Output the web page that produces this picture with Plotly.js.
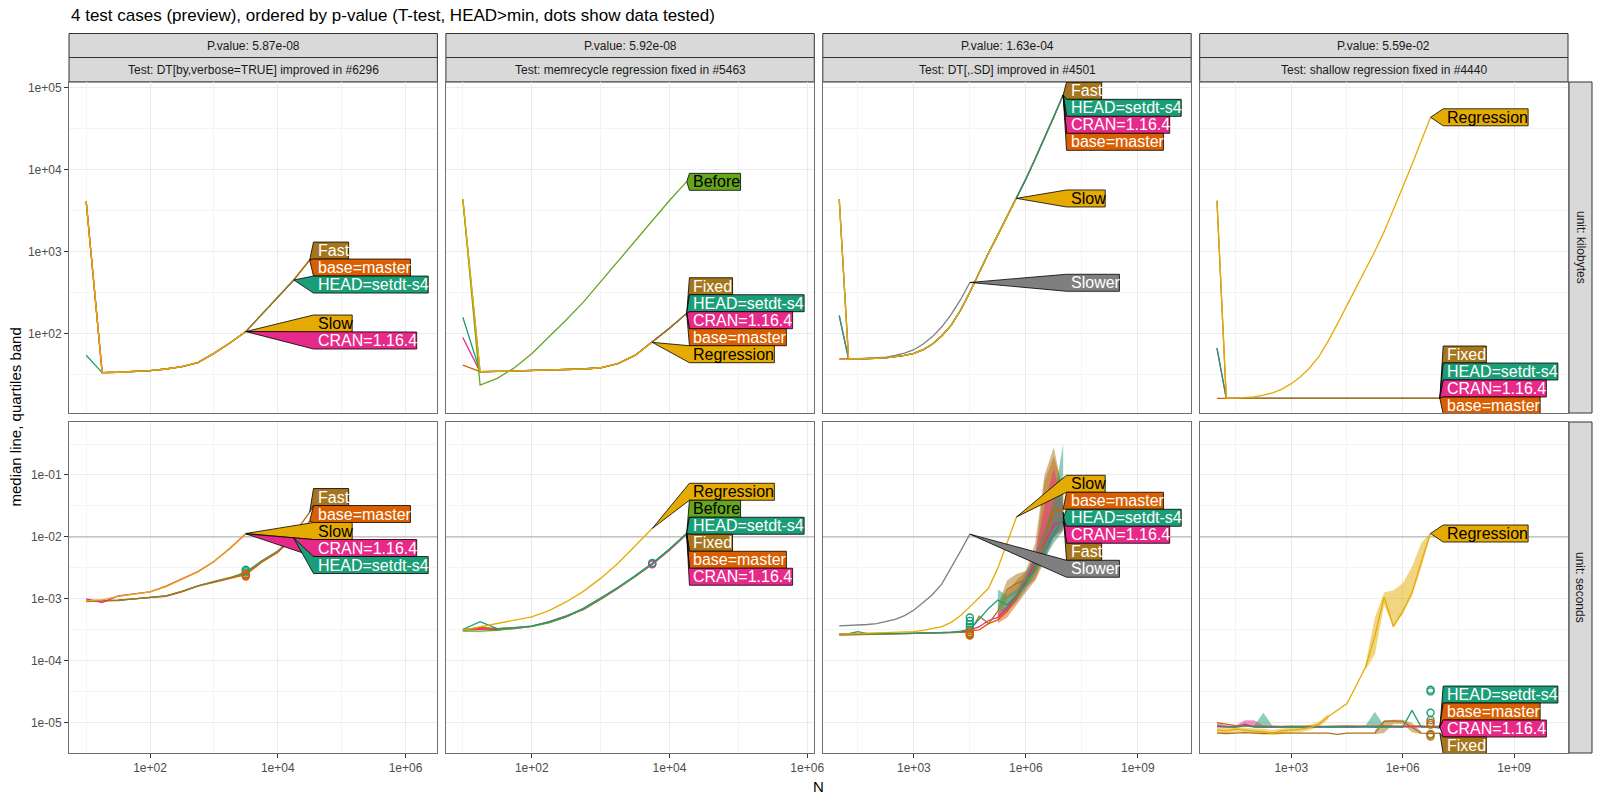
<!DOCTYPE html>
<html>
<head>
<meta charset="utf-8">
<script src="https://cdn.plot.ly/plotly-3.0.1.min.js"></script>
<style>html,body{margin:0;padding:0;background:#fff}#plot{width:1600px;height:800px}</style>
</head>
<body>
<div id="plot"></div>
<script>
// N grid used by every test (steps of 10^0.25)
var N = [10, 17.8, 31.6, 56.2, 100, 178, 316, 562, 1000, 1780, 3160, 5620, 1e4, 1.78e4, 3.16e4,
         5.62e4, 1e5, 1.78e5, 3.16e5, 5.62e5, 1e6, 1.78e6, 3.16e6, 5.62e6, 1e7];

var pValues = ['5.87e-08', '5.92e-08', '1.63e-04', '5.59e-02'];
var testNames = ['DT[by,verbose=TRUE] improved in #6296', 'memrecycle regression fixed in #5463',
                 'DT[,.SD] improved in #4501', 'shallow regression fixed in #4440'];
var units = ['kilobytes', 'seconds'];
var REF_SECONDS = 0.01;

// --- DT[by,verbose=TRUE] ---
var verbose_kb_base = [4070, 33.1, 33.5, 34.3, 35.0, 36.7, 39.2, 44, 57, 76, 105, 170, 277, 447, 783];
var verbose_kb_Fast = [4070, 33.1, 33.5, 34.3, 35.0, 36.7, 39.2, 44, 57, 76, 105, 170, 277, 447, 783];
var verbose_kb_HEAD = [54, 33.1, 33.5, 34.3, 35.0, 36.7, 39.2, 44, 57, 76, 105, 170, 277, 447];
var verbose_kb_CRAN = [4070, 33.1, 33.5, 34.3, 35.0, 36.7, 39.2, 44, 57, 76, 105];
var verbose_kb_Slow = [4070, 33.1, 33.5, 34.3, 35.0, 36.7, 39.2, 44, 57, 76, 105];

var verbose_sec_base = [9.0e-4, 9.2e-4, 9.5e-4, 1.0e-3, 1.04e-3, 1.1e-3, 1.3e-3, 1.6e-3, 1.85e-3, 2.1e-3, 2.45e-3, 3.9e-3, 5.6e-3, 1.0e-2, 1.78e-2];
var verbose_sec_HEAD = [9.4e-4, 9.4e-4, 9.5e-4, 1.0e-3, 1.05e-3, 1.12e-3, 1.32e-3, 1.62e-3, 1.9e-3, 2.19e-3, 2.7e-3, 4.1e-3, 5.9e-3, 9.55e-3];
var verbose_sec_Fast = [9.2e-4, 9.3e-4, 9.4e-4, 1.0e-3, 1.05e-3, 1.12e-3, 1.32e-3, 1.62e-3, 1.9e-3, 2.2e-3, 2.55e-3, 4.0e-3, 5.8e-3, 1.1e-2, 2.5e-2];
var verbose_sec_CRAN = [1.0e-3, 8.7e-4, 1.12e-3, 1.22e-3, 1.3e-3, 1.6e-3, 2.1e-3, 2.75e-3, 4.0e-3, 6.5e-3, 1.12e-2];
var verbose_sec_Slow = [9.3e-4, 9.6e-4, 1.1e-3, 1.2e-3, 1.3e-3, 1.58e-3, 2.09e-3, 2.72e-3, 3.98e-3, 6.6e-3, 1.135e-2];
var verbose_sec_HEAD_dots = [2.95e-3, 2.8e-3, 2.65e-3];
var verbose_sec_base_dots = [2.5e-3, 2.4e-3, 2.3e-3];

// --- memrecycle ---
var memrecycle_kb_base = [41, 34.0, 34.3, 34.7, 35.1, 35.5, 35.9, 36.7, 38.0, 42.7, 53.7, 77.6, 115, 175];
var memrecycle_kb_CRAN = [89, 34.0, 34.3, 34.7, 35.1, 35.5, 35.9, 36.7, 38.0, 42.7, 53.7, 77.6, 115, 175];
var memrecycle_kb_HEAD = [157, 34.0, 34.3, 34.7, 35.1, 35.5, 35.9, 36.7, 38.0, 42.7, 53.7, 77.6, 115, 175];
var memrecycle_kb_Fixed = [4300, 34.0, 34.3, 34.7, 35.1, 35.5, 35.9, 36.7, 38.0, 42.7, 53.7, 77.6, 115, 175];
var memrecycle_kb_Before = [4300, 23.4, 28.2, 38.0, 56.2, 89.1, 145, 240, 427, 741, 1318, 2344, 4169, 7080];
var memrecycle_kb_Regression = [4300, 34.0, 34.3, 34.7, 35.1, 35.5, 35.9, 36.7, 38.0, 42.7, 53.7, 77.6];

var memrecycle_sec_base = [3.13e-4, 3.2e-4, 3.24e-4, 3.4e-4, 3.6e-4, 4.2e-4, 5.1e-4, 6.9e-4, 1.0e-3, 1.5e-3, 2.3e-3, 3.7e-3, 6.2e-3, 1.12e-2];
var memrecycle_sec_CRAN = [3.2e-4, 3.3e-4, 3.2e-4, 3.3e-4, 3.6e-4, 4.3e-4, 5.3e-4, 6.7e-4, 9.8e-4, 1.47e-3, 2.28e-3, 3.6e-3, 6.1e-3, 1.1e-2];
var memrecycle_sec_Fixed = [3.1e-4, 3.5e-4, 3.3e-4, 3.4e-4, 3.6e-4, 4.15e-4, 5.1e-4, 6.9e-4, 1.02e-3, 1.5e-3, 2.34e-3, 3.72e-3, 6.3e-3, 1.13e-2];
var memrecycle_sec_Before = [3.0e-4, 3.0e-4, 3.1e-4, 3.3e-4, 3.6e-4, 4.1e-4, 5.1e-4, 6.9e-4, 1.0e-3, 1.5e-3, 2.3e-3, 3.7e-3, 6.3e-3, 1.13e-2];
var memrecycle_sec_HEAD = [3.2e-4, 4.27e-4, 3.3e-4, 3.4e-4, 3.65e-4, 4.2e-4, 5.2e-4, 7.0e-4, 1.03e-3, 1.52e-3, 2.36e-3, 3.75e-3, 6.4e-3, 1.15e-2];
var memrecycle_sec_Regression = [3.13e-4, 3.55e-4, 3.98e-4, 4.47e-4, 5.13e-4, 6.46e-4, 8.91e-4, 1.32e-3, 2.14e-3, 3.72e-3, 7.08e-3, 1.365e-2];
var memrecycle_sec_CRAN_dots = [3.7e-3, 3.6e-3];
var memrecycle_sec_HEAD_dots = [3.8e-3];

// --- DT[,.SD] ---
var SD_kb_base = [48.6, 48.6, 48.6, 49.0, 49.5, 50.1, 51.9, 53.7, 57.0, 63.1, 74.1, 93.3, 126, 191, 316, 562, 955, 1585, 2630, 4426, 7586, 13490, 23990, 43650, 80540];
var SD_kb_CRAN = [164, 48.6, 48.6, 49.0, 49.5, 50.1, 51.9, 53.7, 57.0, 63.1, 74.1, 93.3, 126, 191, 316, 562, 955, 1585, 2630, 4426, 7586, 13490, 23990, 43650, 80540];
var SD_kb_Fast = [4345, 48.6, 48.6, 49.0, 49.5, 50.1, 51.9, 53.7, 57.0, 63.1, 74.1, 93.3, 126, 191, 316, 562, 955, 1585, 2630, 4426, 7586, 13490, 23990, 43650, 80540];
var SD_kb_HEAD = [164, 48.6, 48.6, 49.0, 49.5, 50.1, 51.9, 53.7, 57.0, 63.1, 74.1, 93.3, 126, 191, 316, 562, 955, 1585, 2630, 4426, 7586, 13490, 23990, 43650, 80540];
var SD_kb_Slower = [4345, 48.6, 49.0, 49.5, 50.1, 51.3, 53.7, 57.5, 63.1, 74.1, 91.2, 120, 170, 257, 417];
var SD_kb_Slow = [4345, 48.6, 48.6, 49.0, 49.5, 50.1, 51.9, 53.7, 57.0, 63.1, 74.1, 93.3, 126, 191, 316, 562, 955, 1585, 2630, 4426];

var SD_sec_base = [2.65e-4, 2.68e-4, 2.7e-4, 2.72e-4, 2.7e-4, 2.72e-4, 2.73e-4, 2.74e-4, 2.76e-4, 2.78e-4, 2.8e-4, 2.82e-4, 2.85e-4, 2.9e-4, 3.0e-4, 3.16e-4, 3.98e-4, 4.57e-4, 6.31e-4, 1.0e-3, 1.78e-3, 3.16e-3, 1.0e-2, 2.5e-2, 2.8e-2];
var SD_sec_CRAN = [2.7e-4, 2.7e-4, 2.72e-4, 2.72e-4, 2.72e-4, 2.73e-4, 2.74e-4, 2.75e-4, 2.77e-4, 2.79e-4, 2.81e-4, 2.83e-4, 2.86e-4, 2.9e-4, 3.1e-4, 3.55e-4, 4.47e-4, 5.0e-4, 7.08e-4, 1.12e-3, 1.9e-3, 3.98e-3, 7.94e-3, 1.58e-2, 1.78e-2];
var SD_sec_Fast = [2.6e-4, 2.62e-4, 2.64e-4, 2.66e-4, 2.66e-4, 2.68e-4, 2.7e-4, 2.7e-4, 2.72e-4, 2.74e-4, 2.76e-4, 2.78e-4, 2.8e-4, 2.85e-4, 2.9e-4, 5.25e-4, 3.98e-4, 6.31e-4, 1.41e-3, 1.78e-3, 2.0e-3, 2.82e-3, 1.0e-2, 3.16e-2, 2.5e-2];
var SD_sec_HEAD = [2.7e-4, 2.75e-4, 2.95e-4, 2.75e-4, 2.72e-4, 2.72e-4, 2.74e-4, 2.75e-4, 2.78e-4, 2.8e-4, 2.82e-4, 2.85e-4, 2.9e-4, 3.0e-4, 3.2e-4, 4.68e-4, 7.0e-4, 9.55e-4, 7.94e-4, 1.12e-3, 1.78e-3, 3.16e-3, 6.31e-3, 1.12e-2, 2.0e-2];
var SD_sec_Slower = [3.67e-4, 3.72e-4, 3.76e-4, 3.85e-4, 3.98e-4, 4.27e-4, 4.68e-4, 5.37e-4, 6.61e-4, 8.71e-4, 1.175e-3, 1.74e-3, 3.16e-3, 5.89e-3, 1.107e-2];
var SD_sec_Slow = [2.69e-4, 2.72e-4, 2.75e-4, 2.79e-4, 2.79e-4, 2.82e-4, 2.85e-4, 2.88e-4, 2.95e-4, 3.09e-4, 3.31e-4, 3.55e-4, 4.17e-4, 5.37e-4, 7.41e-4, 1.047e-3, 1.479e-3, 3.16e-3, 8.32e-3, 2.1e-2];
// quartile bands from N = 1.78e5 on
var SD_sec_base_lo = [4.0e-4, 5.0e-4, 7.94e-4, 1.26e-3, 2.0e-3, 3.98e-3, 1.0e-2, 1.26e-2];
var SD_sec_base_hi = [5.6e-4, 1.26e-3, 2.0e-3, 2.82e-3, 5.0e-3, 7.94e-2, 0.2, 6.3e-2];
var SD_sec_Fast_lo = [5.2e-4, 1.0e-3, 1.26e-3, 1.58e-3, 2.0e-3, 5.0e-3, 1.0e-2, 1.58e-2];
var SD_sec_Fast_hi = [8.0e-4, 2.0e-3, 2.51e-3, 2.82e-3, 7.94e-3, 0.1, 0.28, 5.0e-2];
var SD_sec_HEAD_lo = [6.3e-4, 6.3e-4, 8.9e-4, 1.41e-3, 2.51e-3, 4.47e-3, 7.94e-3, 1.26e-2];
var SD_sec_HEAD_hi = [1.41e-3, 1.12e-3, 1.41e-3, 2.51e-3, 5.0e-3, 1.26e-2, 3.98e-2, 0.316];
var SD_sec_CRAN_lo = [4.4e-4, 6.3e-4, 1.0e-3, 1.7e-3, 3.2e-3, 5.0e-3, 1.0e-2, 1.4e-2];
var SD_sec_CRAN_hi = [5.8e-4, 7.9e-4, 1.26e-3, 2.2e-3, 5.0e-3, 3.2e-2, 0.126, 3.2e-2];
var SD_sec_HEAD_dots = [5.0e-4, 4.4e-4, 3.9e-4, 3.5e-4, 3.2e-4];
var SD_sec_Fast_dots = [3.0e-4, 2.7e-4, 2.55e-4];
var SD_sec_base_dots = [2.8e-4, 2.6e-4];

// --- shallow ---
var shallow_kb_base = [16.1, 16.1, 16.1, 16.1, 16.1, 16.1, 16.1, 16.1, 16.1, 16.1, 16.1, 16.1, 16.1, 16.1, 16.1, 16.1, 16.1, 16.1, 16.1, 16.1, 16.1, 16.1, 16.1, 16.1, 16.1];
var shallow_kb_CRAN = [66, 16.1, 16.1, 16.1, 16.1, 16.1, 16.1, 16.1, 16.1, 16.1, 16.1, 16.1, 16.1, 16.1, 16.1, 16.1, 16.1, 16.1, 16.1, 16.1, 16.1, 16.1, 16.1, 16.1, 16.1];
var shallow_kb_HEAD = [66, 16.1, 16.1, 16.1, 16.1, 16.1, 16.1, 16.1, 16.1, 16.1, 16.1, 16.1, 16.1, 16.1, 16.1, 16.1, 16.1, 16.1, 16.1, 16.1, 16.1, 16.1, 16.1, 16.1, 16.1];
var shallow_kb_Fixed = [4140, 16.1, 16.1, 16.1, 16.1, 16.1, 16.1, 16.1, 16.1, 16.1, 16.1, 16.1, 16.1, 16.1, 16.1, 16.1, 16.1, 16.1, 16.1, 16.1, 16.1, 16.1, 16.1, 16.1, 16.1];
var shallow_kb_Regression = [4140, 16.1, 16.2, 16.4, 16.8, 17.6, 18.8, 20.9, 24.3, 29.5, 38.0, 52.5, 81.3, 132, 214, 363, 603, 1000, 1738, 3162, 6026, 11480, 21880, 43050];

var shallow_sec_base = [1.0e-5, 9.5e-6, 9.0e-6, 8.9e-6, 8.8e-6, 8.9e-6, 8.8e-6, 8.7e-6, 8.8e-6, 8.9e-6, 8.8e-6, 8.7e-6, 8.8e-6, 8.8e-6, 8.9e-6, 8.8e-6, 8.7e-6, 8.8e-6, 8.9e-6, 8.8e-6, 8.7e-6, 8.8e-6, 8.9e-6, 8.6e-6, 8.8e-6];
var shallow_sec_CRAN = [8.7e-6, 8.5e-6, 8.6e-6, 9.5e-6, 8.6e-6, 8.5e-6, 8.6e-6, 8.5e-6, 8.6e-6, 8.6e-6, 8.5e-6, 8.6e-6, 8.6e-6, 8.5e-6, 8.6e-6, 8.6e-6, 8.5e-6, 8.6e-6, 8.6e-6, 8.5e-6, 8.6e-6, 8.6e-6, 8.5e-6, 8.6e-6, 8.6e-6];
var shallow_sec_HEAD = [9.0e-6, 8.7e-6, 8.5e-6, 9.0e-6, 8.6e-6, 8.5e-6, 8.4e-6, 8.5e-6, 8.6e-6, 8.5e-6, 8.4e-6, 8.5e-6, 8.6e-6, 8.5e-6, 8.4e-6, 8.5e-6, 8.7e-6, 8.5e-6, 8.6e-6, 8.5e-6, 8.4e-6, 1.58e-5, 8.5e-6, 8.6e-6, 8.2e-6];
var shallow_sec_Fixed = [6.8e-6, 6.7e-6, 6.8e-6, 6.9e-6, 6.8e-6, 6.7e-6, 6.8e-6, 6.8e-6, 6.7e-6, 6.8e-6, 6.8e-6, 6.7e-6, 6.8e-6, 6.5e-6, 6.8e-6, 6.8e-6, 6.8e-6, 6.8e-6, 1.05e-5, 1.07e-5, 1.05e-5, 8.5e-6, 6.8e-6, 6.7e-6, 6.8e-6];
var shallow_sec_Regression = [7.6e-6, 7.4e-6, 7.9e-6, 7.6e-6, 7.4e-6, 7.2e-6, 6.8e-6, 7.4e-6, 7.6e-6, 7.9e-6, 8.3e-6, 9.5e-6, 1.26e-5, 1.58e-5, 2.04e-5, 3.98e-5, 7.9e-5, 2.5e-4, 1.07e-3, 3.55e-4, 6.3e-4, 1.26e-3, 3.98e-3, 1.135e-2];
// quartile bands
var shallow_sec_Regression_lo = [7.08e-5, 1.26e-4, 7.94e-4, 3.55e-4, 5.62e-4, 1.12e-3, 3.16e-3, 1.1e-2];
var shallow_sec_Regression_hi = [8.91e-5, 5.0e-4, 1.26e-3, 1.38e-3, 1.78e-3, 3.31e-3, 7.94e-3, 1.175e-2];
var shallow_sec_RegressionLow_lo = [6.8e-6, 6.7e-6, 7.0e-6, 6.8e-6, 6.7e-6, 6.5e-6, 6.3e-6, 6.6e-6, 6.8e-6, 7.1e-6, 7.6e-6, 8.7e-6, 1.15e-5];
var shallow_sec_RegressionLow_hi = [8.3e-6, 8.2e-6, 8.6e-6, 8.3e-6, 8.1e-6, 8.0e-6, 7.6e-6, 8.1e-6, 8.3e-6, 8.7e-6, 9.2e-6, 1.05e-5, 1.38e-5];
var shallow_sec_HEAD_lo = [8.2e-6, 8.2e-6, 8.1e-6, 8.2e-6, 8.3e-6, 8.2e-6, 8.1e-6, 8.2e-6, 8.2e-6, 8.1e-6, 8.2e-6, 8.3e-6, 8.2e-6, 8.2e-6, 8.2e-6];
var shallow_sec_HEAD_hi = [8.9e-6, 1.45e-5, 8.8e-6, 8.9e-6, 8.9e-6, 8.8e-6, 8.9e-6, 8.9e-6, 8.8e-6, 8.9e-6, 8.9e-6, 8.9e-6, 9.0e-6, 1.5e-5, 8.9e-6];
var shallow_sec_CRAN_hi = [1.0e-5, 9.0e-6, 9.0e-6, 1.1e-5, 1.1e-5, 9.0e-6, 8.8e-6];
var shallow_sec_CRAN_lo = [8.3e-6, 8.2e-6, 8.3e-6, 8.6e-6, 8.3e-6, 8.2e-6, 8.3e-6];
var shallow_sec_Fixed_lo = [6.5e-6, 6.8e-6, 9.5e-6, 9.5e-6, 7.0e-6, 6.5e-6];
var shallow_sec_Fixed_hi = [7.5e-6, 1.1e-5, 1.12e-5, 1.12e-5, 1.0e-5, 7.2e-6];
var shallow_sec_HEAD_dots = [3.4e-5, 3.2e-5, 1.45e-5, 1.1e-5];
var shallow_sec_base_dots = [1.0e-5, 9.3e-6];
var shallow_sec_Fixed_dots = [6.4e-6, 6.0e-6, 6.6e-6];

// axis ticks
var X_TICKS_LOW = [100, 1e4, 1e6], X_TEXT_LOW = ['1e+02', '1e+04', '1e+06'], X_MINOR_LOW = [10, 1000, 1e5];
var X_TICKS_HIGH = [1e3, 1e6, 1e9], X_TEXT_HIGH = ['1e+03', '1e+06', '1e+09'], X_MINOR_HIGH = [31.6, 3.16e4, 3.16e7];
var Y_TICKS_KB = [100, 1e3, 1e4, 1e5], Y_TEXT_KB = ['1e+02', '1e+03', '1e+04', '1e+05'], Y_MINOR_KB = [31.6, 316, 3160, 31600];
var Y_TICKS_SEC = [1e-5, 1e-4, 1e-3, 1e-2, 1e-1], Y_TEXT_SEC = ['1e-05', '1e-04', '1e-03', '1e-02', '1e-01'];
var Y_MINOR_SEC = [3.16e-6, 3.16e-5, 3.16e-4, 3.16e-3, 3.16e-2, 0.316];

// ---------- look & layout ----------
var FONT = '"Liberation Sans", Arial, sans-serif';
var COLORS = {HEAD: '#1B9E77', base: '#D95F02', CRAN: '#E7298A', Before: '#66A61E', Slow: '#E6AB02',
              Regression: '#E6AB02', Fast: '#A6761D', Fixed: '#A6761D', Slower: '#7F7F7F'};
var LABEL_TEXT = {HEAD: 'HEAD=setdt-s4', base: 'base=master', CRAN: 'CRAN=1.16.4'};
var DARK_TEXT = {Slow: true, Regression: true, Before: true};

var W = 1600, H = 800;
var COL_X = [[69, 437.4], [445.9, 814.3], [822.8, 1191.2], [1199.7, 1568]];
var ROW_Y = [[82, 413], [422, 753]];
var XR = [[0.731, 6.5], [0.754, 6.103], [0.56, 10.43], [0.535, 10.45]];
var YR = [[1.028, 5.065], [-5.489, -0.145]];
var BOX_H = 17;

var panels = [
  {col: 0, row: 0,
   lines: [['base', verbose_kb_base], ['CRAN', verbose_kb_CRAN], ['HEAD', verbose_kb_HEAD], ['Fast', verbose_kb_Fast], ['Slow', verbose_kb_Slow]],
   labelX: 4.56, stacks: [[3.113, ['Fast', 'base', 'HEAD']], [2.223, ['Slow', 'CRAN']]]},
  {col: 1, row: 0,
   lines: [['base', memrecycle_kb_base], ['CRAN', memrecycle_kb_CRAN], ['HEAD', memrecycle_kb_HEAD], ['Fixed', memrecycle_kb_Fixed], ['Before', memrecycle_kb_Before], ['Regression', memrecycle_kb_Regression]],
   labelX: 4.29, stacks: [[3.951, ['Before']], [2.678, ['Fixed', 'HEAD', 'CRAN', 'base', 'Regression']]]},
  {col: 2, row: 0,
   lines: [['base', SD_kb_base], ['CRAN', SD_kb_CRAN], ['Fast', SD_kb_Fast], ['HEAD', SD_kb_HEAD], ['Slower', SD_kb_Slower], ['Slow', SD_kb_Slow]],
   labelX: 7.09, stacks: [[5.061, ['Fast', 'HEAD', 'CRAN', 'base']], [3.748, ['Slow']], [2.72, ['Slower']]]},
  {col: 3, row: 0,
   lines: [['base', shallow_kb_base], ['CRAN', shallow_kb_CRAN], ['HEAD', shallow_kb_HEAD], ['Fixed', shallow_kb_Fixed], ['Regression', shallow_kb_Regression]],
   labelX: 7.09, stacks: [[4.738, ['Regression']], [1.845, ['Fixed', 'HEAD', 'CRAN', 'base']]]},
  {col: 0, row: 1,
   lines: [['base', verbose_sec_base], ['HEAD', verbose_sec_HEAD], ['Fast', verbose_sec_Fast], ['CRAN', verbose_sec_CRAN], ['Slow', verbose_sec_Slow]],
   dots: [['HEAD', 10, verbose_sec_HEAD_dots], ['base', 10, verbose_sec_base_dots]],
   labelX: 4.56, stacks: [[-1.219, ['Fast', 'base', 'Slow', 'CRAN', 'HEAD']]]},
  {col: 1, row: 1,
   lines: [['base', memrecycle_sec_base], ['CRAN', memrecycle_sec_CRAN], ['Fixed', memrecycle_sec_Fixed], ['Before', memrecycle_sec_Before], ['HEAD', memrecycle_sec_HEAD], ['Regression', memrecycle_sec_Regression]],
   dots: [['CRAN', 11, memrecycle_sec_CRAN_dots], ['HEAD', 11, memrecycle_sec_HEAD_dots]],
   labelX: 4.29, stacks: [[-1.134, ['Regression', 'Before', 'HEAD', 'Fixed', 'base', 'CRAN']]]},
  {col: 2, row: 1,
   bands: [['base', 17, SD_sec_base_lo, SD_sec_base_hi], ['Fast', 17, SD_sec_Fast_lo, SD_sec_Fast_hi],
           ['CRAN', 17, SD_sec_CRAN_lo, SD_sec_CRAN_hi], ['HEAD', 17, SD_sec_HEAD_lo, SD_sec_HEAD_hi]],
   lines: [['base', SD_sec_base], ['CRAN', SD_sec_CRAN], ['Fast', SD_sec_Fast], ['HEAD', SD_sec_HEAD], ['Slower', SD_sec_Slower], ['Slow', SD_sec_Slow]],
   dots: [['HEAD', 14, SD_sec_HEAD_dots], ['Fast', 14, SD_sec_Fast_dots], ['base', 14, SD_sec_base_dots]],
   labelX: 7.09, stacks: [[-1.005, ['Slow', 'base', 'HEAD', 'CRAN', 'Fast', 'Slower']]]},
  {col: 3, row: 1,
   bands: [['CRAN', 0, shallow_sec_CRAN_lo, shallow_sec_CRAN_hi], ['HEAD', 4, shallow_sec_HEAD_lo, shallow_sec_HEAD_hi],
           ['Fixed', 17, shallow_sec_Fixed_lo, shallow_sec_Fixed_hi],
           ['Regression', 0, shallow_sec_RegressionLow_lo, shallow_sec_RegressionLow_hi],
           ['Regression', 16, shallow_sec_Regression_lo, shallow_sec_Regression_hi]],
   lines: [['base', shallow_sec_base], ['CRAN', shallow_sec_CRAN], ['HEAD', shallow_sec_HEAD], ['Fixed', shallow_sec_Fixed], ['Regression', shallow_sec_Regression]],
   dots: [['HEAD', 23, shallow_sec_HEAD_dots], ['base', 23, shallow_sec_base_dots], ['Fixed', 23, shallow_sec_Fixed_dots]],
   labelX: 7.09, stacks: [[-1.808, ['Regression']], [-4.408, ['HEAD', 'base', 'CRAN', 'Fixed']]]}
];

function rgba(hex, a) {
  var r = parseInt(hex.substr(1, 2), 16), g = parseInt(hex.substr(3, 2), 16), b = parseInt(hex.substr(5, 2), 16);
  return 'rgba(' + r + ',' + g + ',' + b + ',' + a + ')';
}
var ctx = document.createElement('canvas').getContext('2d');
ctx.font = '16px "Liberation Sans"';
function textW(s) { return ctx.measureText(s).width; }
function suffix(k) { return k === 1 ? '' : String(k); }

var traces = [];
var annotations = [];
var shapes = [];

panels.forEach(function (p) {
  var k = p.row * 4 + p.col + 1;
  var xa = 'x' + suffix(k), ya = 'y' + suffix(k);
  var xPx = (COL_X[p.col][1] - COL_X[p.col][0]) / (XR[p.col][1] - XR[p.col][0]);
  var yPx = (ROW_Y[p.row][1] - ROW_Y[p.row][0]) / (YR[p.row][1] - YR[p.row][0]);

  if (p.row === 1) {
    traces.push({x: [Math.pow(10, XR[p.col][0]), Math.pow(10, XR[p.col][1])], y: [REF_SECONDS, REF_SECONDS],
      xaxis: xa, yaxis: ya, mode: 'lines', line: {color: '#b8b8b8', width: 1.2}, hoverinfo: 'skip'});
  }
  (p.bands || []).forEach(function (b) {
    var n = N.slice(b[1], b[1] + b[2].length);
    traces.push({x: n.concat(n.slice().reverse()), y: b[3].concat(b[2].slice().reverse()),
      xaxis: xa, yaxis: ya, mode: 'lines', fill: 'toself', fillcolor: rgba(COLORS[b[0]], 0.5),
      line: {width: 0}, hoverinfo: 'skip'});
  });
  var ends = {};
  p.lines.forEach(function (l) {
    var n = N.slice(0, l[1].length);
    ends[l[0]] = [Math.log10(n[n.length - 1]), Math.log10(l[1][l[1].length - 1])];
    traces.push({x: n, y: l[1], xaxis: xa, yaxis: ya, mode: 'lines',
      line: {color: COLORS[l[0]], width: 1.3}, hoverinfo: 'skip'});
  });
  (p.dots || []).forEach(function (d) {
    traces.push({x: d[2].map(function () { return N[d[1]]; }), y: d[2], xaxis: xa, yaxis: ya, mode: 'markers',
      marker: {symbol: 'circle-open', size: 7, color: COLORS[d[0]], line: {width: 1.4}}, hoverinfo: 'skip'});
  });
  // direct labels: box plus wedge pointing to the end of the line
  p.stacks.forEach(function (s) {
    s[1].forEach(function (name, i) {
      var txt = LABEL_TEXT[name] || name;
      var top = s[0] - i * BOX_H / yPx, bot = top - BOX_H / yPx;
      var L = p.labelX, R = L + (textW(txt) + 4) / xPx;
      var P = ends[name];
      var px = [P[0], L, R, R, L, P[0]], py = [P[1], top, top, bot, bot, P[1]];
      traces.push({x: px.map(function (v) { return Math.pow(10, v); }), y: py.map(function (v) { return Math.pow(10, v); }),
        xaxis: xa, yaxis: ya, mode: 'lines', fill: 'toself', fillcolor: COLORS[name],
        line: {color: '#000', width: 0.8}, hoverinfo: 'skip'});
      annotations.push({xref: xa, yref: ya, x: L + 2 / xPx, y: (top + bot) / 2, xanchor: 'left', yanchor: 'middle',
        text: txt, showarrow: false, font: {family: FONT, size: 16, color: DARK_TEXT[name] ? '#000' : '#fff'}});
    });
  });
});

var layout = {
  width: W, height: H, margin: {l: 0, r: 0, t: 0, b: 0}, showlegend: false,
  paper_bgcolor: '#fff', plot_bgcolor: '#fff', font: {family: FONT}
};

for (var r = 0; r < 2; r++) {
  for (var c = 0; c < 4; c++) {
    var k = r * 4 + c + 1;
    var low = c < 2;
    layout['xaxis' + suffix(k)] = {
      type: 'log', range: XR[c], domain: [COL_X[c][0] / W, COL_X[c][1] / W], anchor: 'y' + suffix(k),
      tickmode: 'array', tickvals: low ? X_TICKS_LOW : X_TICKS_HIGH, ticktext: low ? X_TEXT_LOW : X_TEXT_HIGH,
      showticklabels: r === 1, ticks: r === 1 ? 'outside' : '', ticklen: 4, tickcolor: '#333', tickwidth: 1,
      tickfont: {size: 12, color: '#4d4d4d'},
      showgrid: true, gridcolor: '#ebebeb', gridwidth: 1, zeroline: false,
      minor: {tickmode: 'array', tickvals: low ? X_MINOR_LOW : X_MINOR_HIGH, showgrid: true, gridcolor: '#f4f4f4', gridwidth: 1, ticks: ''},
      showline: true, mirror: true, linecolor: '#6e6e6e', linewidth: 1, fixedrange: true
    };
    layout['yaxis' + suffix(k)] = {
      type: 'log', range: YR[r], domain: [1 - ROW_Y[r][1] / H, 1 - ROW_Y[r][0] / H], anchor: 'x' + suffix(k),
      tickmode: 'array', tickvals: r === 0 ? Y_TICKS_KB : Y_TICKS_SEC, ticktext: r === 0 ? Y_TEXT_KB : Y_TEXT_SEC,
      showticklabels: c === 0, ticks: c === 0 ? 'outside' : '', ticklen: 4, tickcolor: '#333', tickwidth: 1,
      tickfont: {size: 12, color: '#4d4d4d'},
      showgrid: true, gridcolor: '#ebebeb', gridwidth: 1, zeroline: false,
      minor: {tickmode: 'array', tickvals: r === 0 ? Y_MINOR_KB : Y_MINOR_SEC, showgrid: true, gridcolor: '#f4f4f4', gridwidth: 1, ticks: ''},
      showline: true, mirror: true, linecolor: '#6e6e6e', linewidth: 1, fixedrange: true
    };
  }
}

// facet strips
var STRIP_TOP = [[33.5, 57.5], [57.5, 82]];
for (var c2 = 0; c2 < 4; c2++) {
  var texts = ['P.value: ' + pValues[c2], 'Test: ' + testNames[c2]];
  for (var s = 0; s < 2; s++) {
    shapes.push({type: 'rect', xref: 'paper', yref: 'paper', x0: COL_X[c2][0] / W, x1: COL_X[c2][1] / W,
      y0: 1 - STRIP_TOP[s][1] / H, y1: 1 - STRIP_TOP[s][0] / H, fillcolor: '#d9d9d9', line: {color: '#333', width: 1}, layer: 'below'});
    annotations.push({xref: 'paper', yref: 'paper', x: (COL_X[c2][0] + COL_X[c2][1]) / 2 / W,
      y: 1 - (STRIP_TOP[s][0] + STRIP_TOP[s][1]) / 2 / H, text: texts[s], showarrow: false,
      font: {family: FONT, size: 12, color: '#1a1a1a'}, xanchor: 'center', yanchor: 'middle'});
  }
}
for (var r2 = 0; r2 < 2; r2++) {
  shapes.push({type: 'rect', xref: 'paper', yref: 'paper', x0: 1569 / W, x1: 1592 / W,
    y0: 1 - ROW_Y[r2][1] / H, y1: 1 - ROW_Y[r2][0] / H, fillcolor: '#d9d9d9', line: {color: '#333', width: 1}, layer: 'below'});
  annotations.push({xref: 'paper', yref: 'paper', x: 1580.5 / W, y: 1 - (ROW_Y[r2][0] + ROW_Y[r2][1]) / 2 / H,
    text: 'unit: ' + units[r2], textangle: 90, showarrow: false, font: {family: FONT, size: 12, color: '#1a1a1a'},
    xanchor: 'center', yanchor: 'middle'});
}

annotations.push({xref: 'paper', yref: 'paper', x: 69 / W, y: 1 - 15 / H, xanchor: 'left', yanchor: 'middle',
  text: '4 test cases (preview), ordered by p-value (T-test, HEAD>min, dots show data tested)', showarrow: false,
  font: {family: FONT, size: 17, color: '#000'}});
annotations.push({xref: 'paper', yref: 'paper', x: 818.5 / W, y: 1 - 786 / H, xanchor: 'center', yanchor: 'middle',
  text: 'N', showarrow: false, font: {family: FONT, size: 15, color: '#000'}});
annotations.push({xref: 'paper', yref: 'paper', x: 15 / W, y: 1 - 417.5 / H, xanchor: 'center', yanchor: 'middle',
  text: 'median line, quartiles band', textangle: -90, showarrow: false, font: {family: FONT, size: 15, color: '#000'}});

layout.shapes = shapes;
layout.annotations = annotations;

Plotly.newPlot('plot', traces, layout, {staticPlot: true, displayModeBar: false});
</script>
</body>
</html>
